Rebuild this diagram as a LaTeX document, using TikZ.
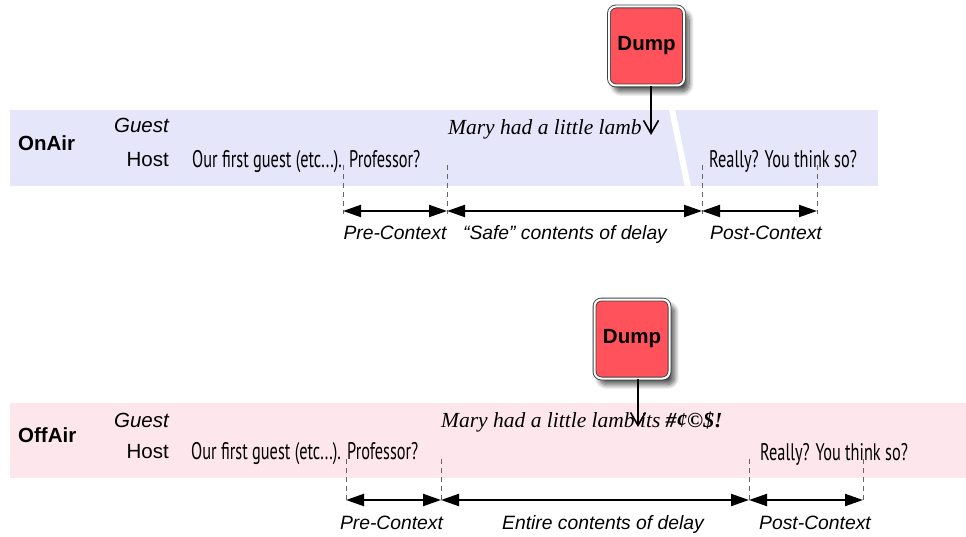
\documentclass[tikz,border=0pt]{standalone}
\usepackage{fontspec}
\usetikzlibrary{arrows.meta,shadows,shadows.blur}
\newfontfamily\helv{Liberation Sans}
\newfontfamily\gill[FakeStretch=0.68]{PT Sans}
\newfontfamily\serifit{Liberation Serif}
\definecolor{onair}{HTML}{E6E6FA}
\definecolor{offair}{HTML}{FDE7EC}
\definecolor{dumpred}{HTML}{FF525A}
\tikzset{
  band/.style={inner sep=0pt, outer sep=0pt, anchor=north west},
  rowlbl/.style={font=\helv\bfseries\fontsize{20.5}{24}\selectfont, anchor=base west, inner sep=0pt},
  guestlbl/.style={font=\helv\itshape\fontsize{20.5}{24}\selectfont, anchor=base east, inner sep=0pt},
  hostlbl/.style={font=\helv\fontsize{20.5}{24}\selectfont, anchor=base east, inner sep=0pt},
  speech/.style={font=\gill\fontsize{24}{26}\selectfont, anchor=base west, inner sep=0pt},
  lamb/.style={font=\serifit\itshape\fontsize{21.5}{24}\selectfont, anchor=base west, inner sep=0pt},
  spanlbl/.style={font=\helv\itshape\fontsize{19.3}{22}\selectfont, anchor=base, inner sep=0pt},
  tickline/.style={draw=black!60, dash pattern=on 5pt off 4pt, line width=0.8pt},
  spanarrow/.style={{Triangle[length=18pt,width=12pt]}-{Triangle[length=18pt,width=12pt]}, line width=2pt},
  dumparrow/.style={-{Straight Barb[length=13pt,width=15pt]}, line width=1.6pt},
  dumpbox/.style={rounded corners=7pt, fill=dumpred, draw=black!75, double=white,
    double distance=2pt, line width=0.9pt, minimum width=75pt, minimum height=79pt,
    inner sep=0pt, font=\helv\bfseries\fontsize{20.5}{24}\selectfont,
    blur shadow={shadow xshift=5pt, shadow yshift=-6pt, shadow opacity=70, shadow blur steps=10, shadow blur radius=5pt}}
}
\begin{document}
\begin{tikzpicture}[x=1pt,y=-1pt]
\useasboundingbox (0,0) rectangle (966,537);
% ---------------- OnAir ----------------
\node[band, fill=onair, minimum width=868pt, minimum height=76pt] (onband) at (10,110) {};
\draw[white, line width=6pt] (671.5,107) -- (688.5,189);
\node[rowlbl] (onair) at (18,150.5) {OnAir};
\node[guestlbl] (g1) at (169,133) {Guest};
\node[hostlbl] (h1) at (169,167) {Host};
\node[speech] (s1) at (192,168) {Our first guest (etc...).};
\node[speech] (p1) at (349,168) {Professor?};
\node[lamb] (m1) at (448,135) {Mary had a little lamb};
\node[speech] (r1) at (709,168) {Really? You think so?};
\node[dumpbox] (d1) at (646.5,46) {Dump};
\coordinate (cut1) at (651,135);
\draw[dumparrow] (d1.south -| cut1) -- (cut1);
% ticks
\foreach \n/\x in {a/343,b/447,c/702,d/817}{
  \coordinate (t1\n) at (\x,165);
  \coordinate (k1\n) at (\x,211);
  \draw[tickline] (t1\n) -- (\x,214);
}
\draw[spanarrow] (k1a) -- (k1b);
\draw[spanarrow] (k1b) -- (k1c);
\draw[spanarrow] (k1c) -- (k1d);
\node[spanlbl] (pre1) at (395,240) {Pre-Context};
\node[spanlbl] (safe1) at (565,240) {“Safe” contents of delay};
\node[spanlbl] (post1) at (766,240) {Post-Context};
% ---------------- OffAir ----------------
\node[band, fill=offair, minimum width=956pt, minimum height=75pt] (offband) at (10,403) {};
\node[rowlbl] (offair) at (18,442) {OffAir};
\node[guestlbl] (g2) at (169,427) {Guest};
\node[hostlbl] (h2) at (169,458) {Host};
\node[speech] (s2) at (191,459) {Our first guest (etc...).};
\node[speech] (p2) at (347,459) {Professor?};
\node[lamb] (m2) at (441,427) {Mary had a little lamb its \textbf{\#¢©\$!}};
\node[speech] (r2) at (760,460) {Really? You think so?};
\node[dumpbox] (d2) at (632,339) {Dump};
\coordinate (cut2) at (638,427);
\draw[dumparrow] (d2.south -| cut2) -- (cut2);
\foreach \n/\x in {a/346,b/441,c/749,d/863}{
  \coordinate (t2\n) at (\x,459);
  \coordinate (k2\n) at (\x,500);
  \draw[tickline] (t2\n) -- (\x,504);
}
\draw[spanarrow] (k2a) -- (k2b);
\draw[spanarrow] (k2b) -- (k2c);
\draw[spanarrow] (k2c) -- (k2d);
\node[spanlbl] (pre2) at (391.5,529) {Pre-Context};
\node[spanlbl] (ent2) at (603,529) {Entire contents of delay};
\node[spanlbl] (post2) at (815,529) {Post-Context};
\end{tikzpicture}
\end{document}
